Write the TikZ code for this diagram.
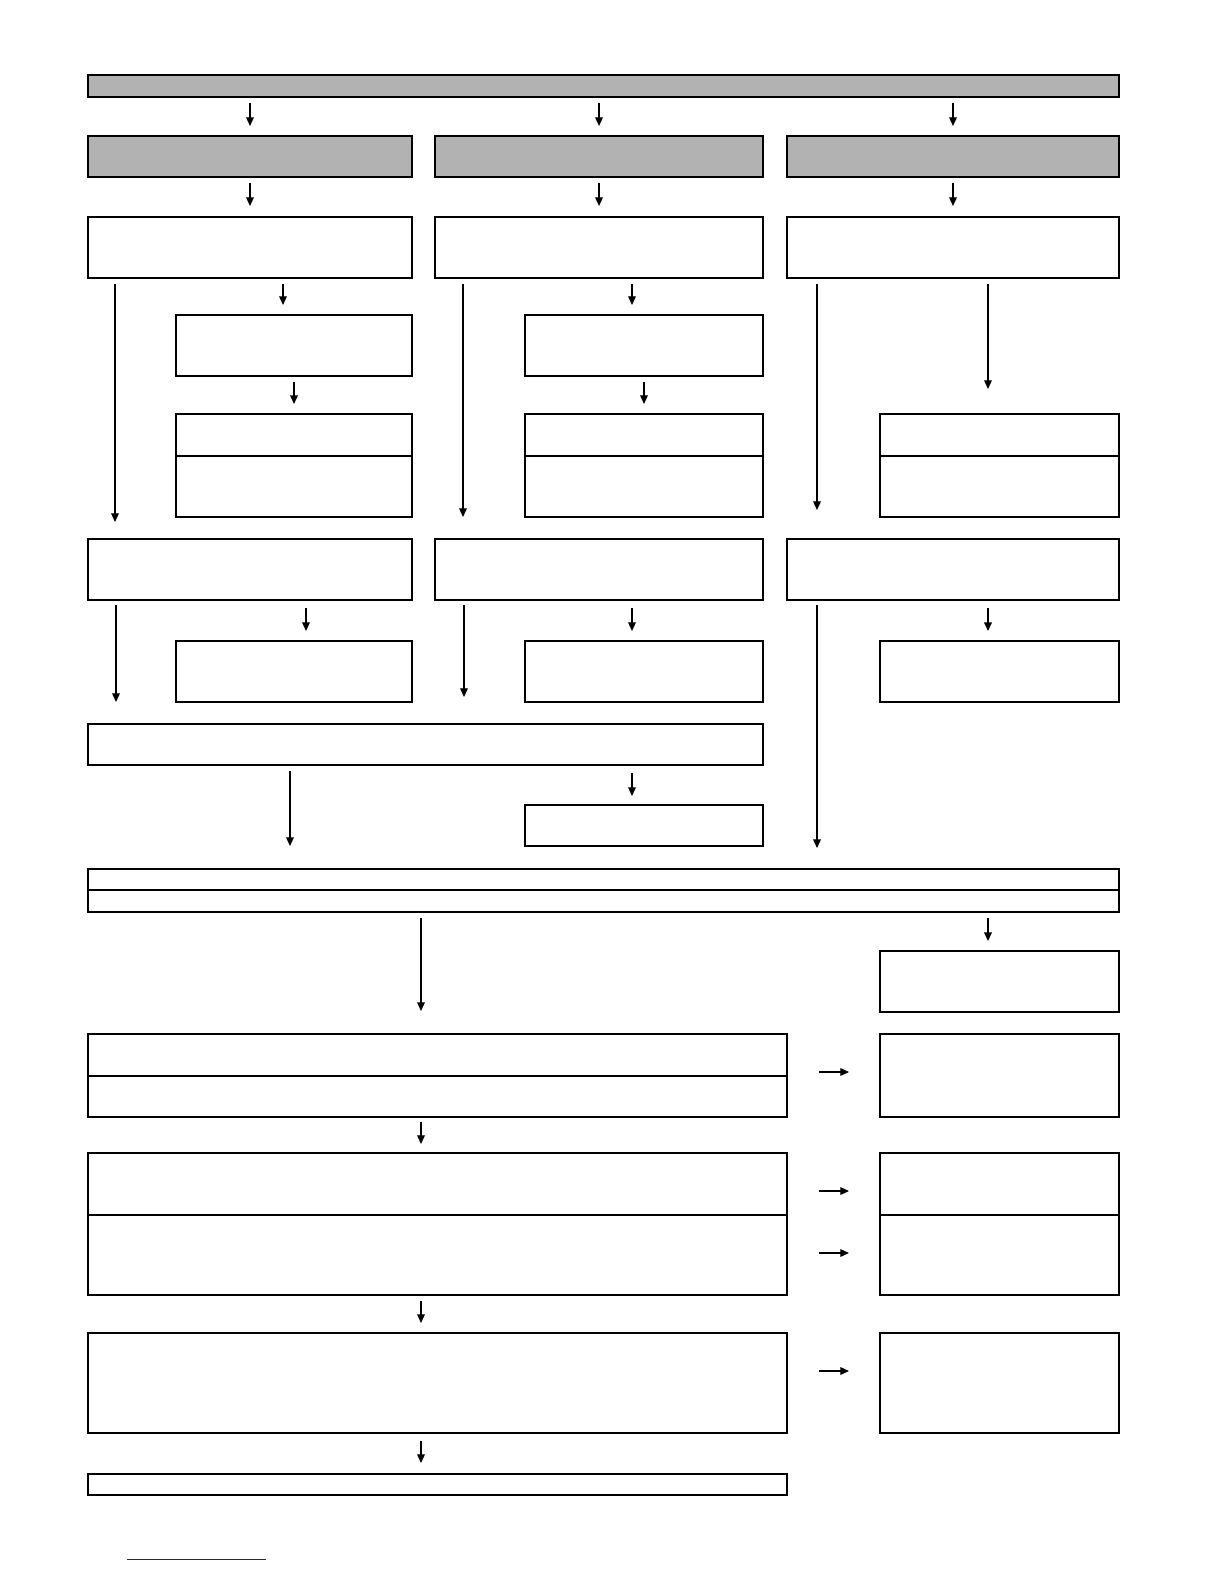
\documentclass[tikz,border=0pt]{standalone}
\usetikzlibrary{arrows.meta,fit}
\begin{document}
\begin{tikzpicture}[x=0.6pt,y=-0.6pt,
  box/.style={draw=black,line width=0.9pt,inner sep=0pt,fill=white},
  gbox/.style={box,fill=black!30},
  arr/.style={line width=0.75pt,-{Triangle[length=5.2pt,width=4.6pt]}},
  splitline/.style={line width=0.9pt}]
\useasboundingbox (0,0) rectangle (1224,1584);
\newcommand{\bx}[6][box]{\node[#1,fit={(#3,#4)(#5,#6)}] (#2) {};}
% top
\bx[gbox]{top}{88}{75}{1119}{97}
\bx[gbox]{g1}{88}{136}{412}{177}
\bx[gbox]{g2}{435}{136}{763}{177}
\bx[gbox]{g3}{787}{136}{1119}{177}
\draw[arr] (250,103) -- (250,126);
\draw[arr] (599,103) -- (599,126);
\draw[arr] (953,103) -- (953,126);
\draw[arr] (250,183) -- (250,206);
\draw[arr] (599,183) -- (599,206);
\draw[arr] (953,183) -- (953,206);
\bx{w1}{88}{217}{412}{278}
\bx{w2}{435}{217}{763}{278}
\bx{w3}{787}{217}{1119}{278}
% column 1
\draw[arr] (115,284) -- (115,522);
\draw[arr] (283,284) -- (283,305);
\bx{a1}{176}{315}{412}{376}
\draw[arr] (294,382) -- (294,404);
\bx{b1}{176}{414}{412}{517}
\draw[splitline] (176,456) -- (412,456);
\bx{c1}{88}{539}{412}{600}
\draw[arr] (116,605) -- (116,702);
\draw[arr] (306,608) -- (306,631);
\bx{d1}{176}{641}{412}{702}
% column 2
\draw[arr] (463,284) -- (463,517);
\draw[arr] (632,284) -- (632,305);
\bx{a2}{525}{315}{763}{376}
\draw[arr] (644,382) -- (644,404);
\bx{b2}{525}{414}{763}{517}
\draw[splitline] (525,456) -- (763,456);
\bx{c2}{435}{539}{763}{600}
\draw[arr] (464,605) -- (464,697);
\draw[arr] (632,608) -- (632,631);
\bx{d2}{525}{641}{763}{702}
% column 3
\draw[arr] (817,284) -- (817,510);
\draw[arr] (988,284) -- (988,389);
\bx{b3}{880}{414}{1119}{517}
\draw[splitline] (880,456) -- (1119,456);
\bx{c3}{787}{539}{1119}{600}
\draw[arr] (817,605) -- (817,848);
\draw[arr,line width=1.1pt] (988,608) -- (988,631);
\bx{d3}{880}{641}{1119}{702}
% middle
\bx{m1}{88}{724}{763}{765}
\draw[arr] (290,771) -- (290,846);
\draw[arr] (632,773) -- (632,796);
\bx{m2}{525}{805}{763}{846}
\bx{dbl}{88}{869}{1119}{912}
\draw[splitline] (88,890) -- (1119,890);
\draw[arr] (421,918) -- (421,1011);
\draw[arr,line width=1.1pt] (988,918) -- (988,941);
\bx{r0}{880}{951}{1119}{1012}
% lower
\bx{L1}{88}{1034}{787}{1117}
\draw[splitline] (88,1076) -- (787,1076);
\draw[arr] (819,1072) -- (849,1072);
\bx{R1}{880}{1034}{1119}{1117}
\draw[arr] (421,1122) -- (421,1144);
\bx{L2}{88}{1153}{787}{1295}
\draw[splitline] (88,1215) -- (787,1215);
\draw[arr] (819,1191) -- (849,1191);
\draw[arr] (819,1253) -- (849,1253);
\bx{R2}{880}{1153}{1119}{1295}
\draw[splitline] (880,1215) -- (1119,1215);
\draw[arr] (421,1301) -- (421,1323);
\bx{L3}{88}{1333}{787}{1433}
\draw[arr] (819,1371) -- (849,1371);
\bx{R3}{880}{1333}{1119}{1433}
\draw[arr] (421,1441) -- (421,1463);
\bx{L4}{88}{1474}{787}{1495}
% footer line
\coordinate (f1) at (127,1559);
\coordinate (f2) at (266,1559);
\draw[line width=0.6pt,color={rgb,255:red,30;green,30;blue,140}] (f1) -- (f2);
\end{tikzpicture}
\end{document}
